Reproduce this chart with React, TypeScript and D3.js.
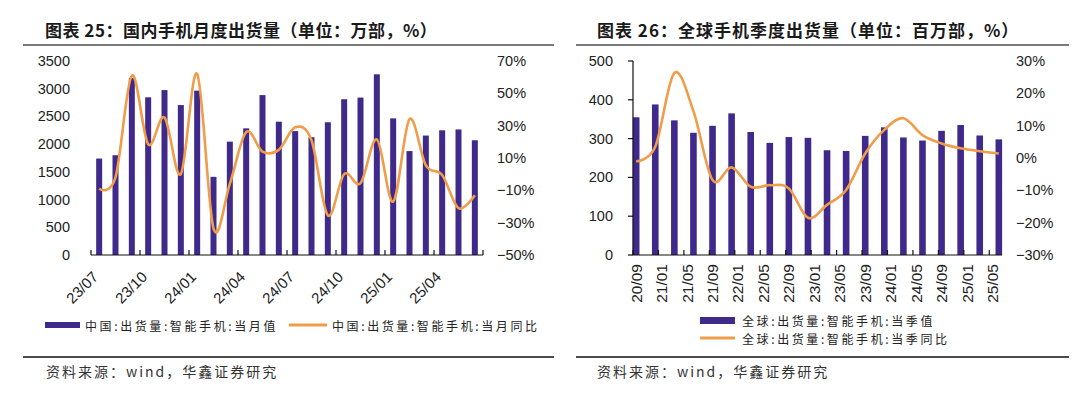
import * as d3 from "d3"

// 图表25：国内手机月度出货量
const cnMonths = [
  "23/07", "23/08", "23/09", "23/10", "23/11", "23/12",
  "24/01", "24/02", "24/03", "24/04", "24/05", "24/06",
  "24/07", "24/08", "24/09", "24/10", "24/11", "24/12",
  "25/01", "25/02", "25/03", "25/04", "25/05", "25/06",
]
const cnShip = [
  1740, 1800, 3190, 2845, 2975, 2705, 2965, 1410, 2045, 2285, 2885, 2405,
  2235, 2125, 2395, 2810, 2840, 3260, 2465, 1875, 2155, 2250, 2265, 2070,
]
const cnYoY = [
  -9, -2, 61, 18.5, 35, 0, 62, -33.5, -6, 26, 14, 15,
  29, 21, -25.5, 0, -5.5, 21.5, -17, 34, 5.5, -0.5, -21, -13,
]
const cnTickLabels = ["23/07", "23/10", "24/01", "24/04", "24/07", "24/10", "25/01", "25/04"]
const cnLeftTicks = [0, 500, 1000, 1500, 2000, 2500, 3000, 3500]
const cnRightTicks = [-50, -30, -10, 10, 30, 50, 70]

// 图表26：全球手机季度出货量
const gQuarters = [
  "20/09", "20/12", "21/03", "21/06", "21/09", "21/12", "22/03", "22/06", "22/09", "22/12",
  "23/03", "23/06", "23/09", "23/12", "24/03", "24/06", "24/09", "24/12", "25/03", "25/06",
]
const gShip = [355, 388, 347, 315, 333, 365, 317, 289, 304, 302, 270, 268, 307, 329, 303, 295, 320, 335, 308, 298]
const gYoY = [-1, 3.5, 26.3, 14.5, -6.8, -2.9, -8.9, -8.4, -9.4, -18.5, -14.5, -9.9, 1.4, 8.7, 12.3, 7.1, 4.5, 3, 2.1, 1.4]
const gTickLabels = [
  "20/09", "21/01", "21/05", "21/09", "22/01", "22/05", "22/09", "23/01",
  "23/05", "23/09", "24/01", "24/05", "24/09", "25/01", "25/05",
]
const gLeftTicks = [0, 100, 200, 300, 400, 500]
const gRightTicks = [-30, -20, -10, 0, 10, 20, 30]

const BAR = "#3f2a8c"
const ORANGE = "#f09c48"
const NUM_FONT = "'Liberation Sans', Arial, sans-serif"
const CJK_FONT = "'Noto Sans CJK SC', sans-serif"

const pct = (d: number) => (d < 0 ? "\u2212" : "") + Math.abs(d) + "%"
// months since 2020/09
const monthIndex = (s: string) => {
  const [y, m] = s.split("/").map(Number)
  return (y - 20) * 12 + (m - 9)
}

function Frame({ x0, x1, title, titleX, titleSpacing, source, sourceX }: any) {
  return (
    <g>
      <text x={titleX} y={37} fontFamily={CJK_FONT} fontWeight="bold" fontSize={17} letterSpacing={titleSpacing} fill="#1a1a1a">
        {title}
      </text>
      <line x1={x0} x2={x1} y1={45} y2={45} stroke="#7a7a7a" strokeWidth={2} />
      <line x1={x0} x2={x1} y1={357} y2={357} stroke="#111" strokeWidth={1.5} />
      <text x={sourceX} y={377} fontFamily={CJK_FONT} fontSize={14} letterSpacing={2} fill="#333">
        {source}
      </text>
    </g>
  )
}

function LegendText({ x, y, children }: any) {
  return (
    <text x={x} y={y} dominantBaseline="central" fontFamily={CJK_FONT} fontSize={12} letterSpacing={2.6} fill="#222">
      {children}
    </text>
  )
}

function MonthlyChart() {
  const x = d3.scaleBand<string>().domain(cnMonths).range([91, 483])
  const yL = d3.scaleLinear().domain([0, 3500]).range([255, 61])
  const yR = d3.scaleLinear().domain([-50, 70]).range([255, 61])
  const cx = (m: string) => (x(m) as number) + x.bandwidth() / 2
  const line = d3
    .line<number>()
    .x((_, i) => cx(cnMonths[i]))
    .y((d) => yR(d))
    .curve(d3.curveCatmullRom.alpha(0))

  const tickXs: number[] = []
  for (let i = 0; i < cnMonths.length; i += 3) tickXs.push(x(cnMonths[i]) as number)
  tickXs.push(x.range()[1])

  return (
    <g>
      <Frame x0={23} x1={554} titleX={45} titleSpacing={0.5} title="图表 25：国内手机月度出货量（单位：万部，%）" sourceX={46} source="资料来源：wind，华鑫证券研究" />
      {cnLeftTicks.map((t) => (
        <text key={t} x={70} y={yL(t)} textAnchor="end" dominantBaseline="central" fontFamily={NUM_FONT} fontSize={14.5} fill="#222">
          {t}
        </text>
      ))}
      {cnRightTicks.map((t) => (
        <text key={t} x={497} y={yR(t)} dominantBaseline="central" fontFamily={NUM_FONT} fontSize={14.5} fill="#222">
          {pct(t)}
        </text>
      ))}
      {cnMonths.map((m, i) => (
        <rect key={m} x={cx(m) - 3} y={yL(cnShip[i])} width={6} height={yL(0) - yL(cnShip[i])} fill={BAR} />
      ))}
      <line x1={x.range()[0]} x2={x.range()[1]} y1={255} y2={255} stroke="#111" strokeWidth={1.2} />
      {tickXs.map((t, i) => (
        <line key={i} x1={t} x2={t} y1={255} y2={250} stroke="#111" strokeWidth={1.2} />
      ))}
      <path d={line(cnYoY) || ""} fill="none" stroke={ORANGE} strokeWidth={2.6} />
      {cnTickLabels.map((m) => (
        <text key={m} transform={`translate(${cx(m) - 4},${274}) rotate(-45)`} textAnchor="end" dominantBaseline="central" fontFamily={NUM_FONT} fontSize={15} fill="#222">
          {m}
        </text>
      ))}
      <rect x={45} y={322} width={35} height={6} fill={BAR} />
      <LegendText x={85} y={325}>中国:出货量:智能手机:当月值</LegendText>
      <line x1={289} x2={327} y1={325} y2={325} stroke={ORANGE} strokeWidth={3} />
      <LegendText x={332} y={325}>中国:出货量:智能手机:当月同比</LegendText>
    </g>
  )
}

function QuarterlyChart() {
  const x = d3.scaleLinear().domain([-0.5, 57.5]).range([633, 1002])
  const yL = d3.scaleLinear().domain([0, 500]).range([255, 61])
  const yR = d3.scaleLinear().domain([-30, 30]).range([255, 61])
  const line = d3
    .line<number>()
    .x((_, i) => x(monthIndex(gQuarters[i])))
    .y((d) => yR(d))
    .curve(d3.curveCatmullRom.alpha(0))

  return (
    <g>
      <Frame x0={576} x1={1069} titleX={597} titleSpacing={1} title="图表 26：全球手机季度出货量（单位：百万部，%）" sourceX={597} source="资料来源：wind，华鑫证券研究" />
      {gLeftTicks.map((t) => (
        <g key={t}>
          <text x={613} y={yL(t)} textAnchor="end" dominantBaseline="central" fontFamily={NUM_FONT} fontSize={14.5} fill="#222">
            {t}
          </text>
          <line x1={628} x2={633} y1={yL(t)} y2={yL(t)} stroke="#111" strokeWidth={1.2} />
        </g>
      ))}
      {gRightTicks.map((t) => (
        <text key={t} x={1016} y={yR(t)} dominantBaseline="central" fontFamily={NUM_FONT} fontSize={14.5} fill="#222">
          {pct(t)}
        </text>
      ))}
      {gQuarters.map((q, i) => (
        <rect key={q} x={x(monthIndex(q)) - 3.3} y={yL(gShip[i])} width={6.6} height={yL(0) - yL(gShip[i])} fill={BAR} />
      ))}
      <line x1={633} x2={633} y1={61} y2={255} stroke="#111" strokeWidth={1.2} />
      <line x1={633} x2={1002} y1={255} y2={255} stroke="#111" strokeWidth={1.2} />
      {gTickLabels.map((m) => (
        <line key={m} x1={x(monthIndex(m) - 0.5)} x2={x(monthIndex(m) - 0.5)} y1={255} y2={250} stroke="#111" strokeWidth={1.2} />
      ))}
      <path d={line(gYoY) || ""} fill="none" stroke={ORANGE} strokeWidth={2.6} />
      {gTickLabels.map((m) => (
        <text key={m} transform={`translate(${x(monthIndex(m))},${264}) rotate(-90)`} textAnchor="end" dominantBaseline="central" fontFamily={NUM_FONT} fontSize={15.5} fill="#222">
          {m}
        </text>
      ))}
      <rect x={700} y={317} width={35} height={7} fill={BAR} />
      <LegendText x={742} y={320}>全球:出货量:智能手机:当季值</LegendText>
      <line x1={700} x2={735} y1={338} y2={338} stroke={ORANGE} strokeWidth={3} />
      <LegendText x={742} y={338}>全球:出货量:智能手机:当季同比</LegendText>
    </g>
  )
}

export default function App() {
  return (
    <svg width={1080} height={395} style={{ position: "absolute", left: 0, top: 0, background: "#fff" }}>
      <rect width={1080} height={395} fill="#fff" />
      <MonthlyChart />
      <QuarterlyChart />
    </svg>
  )
}
